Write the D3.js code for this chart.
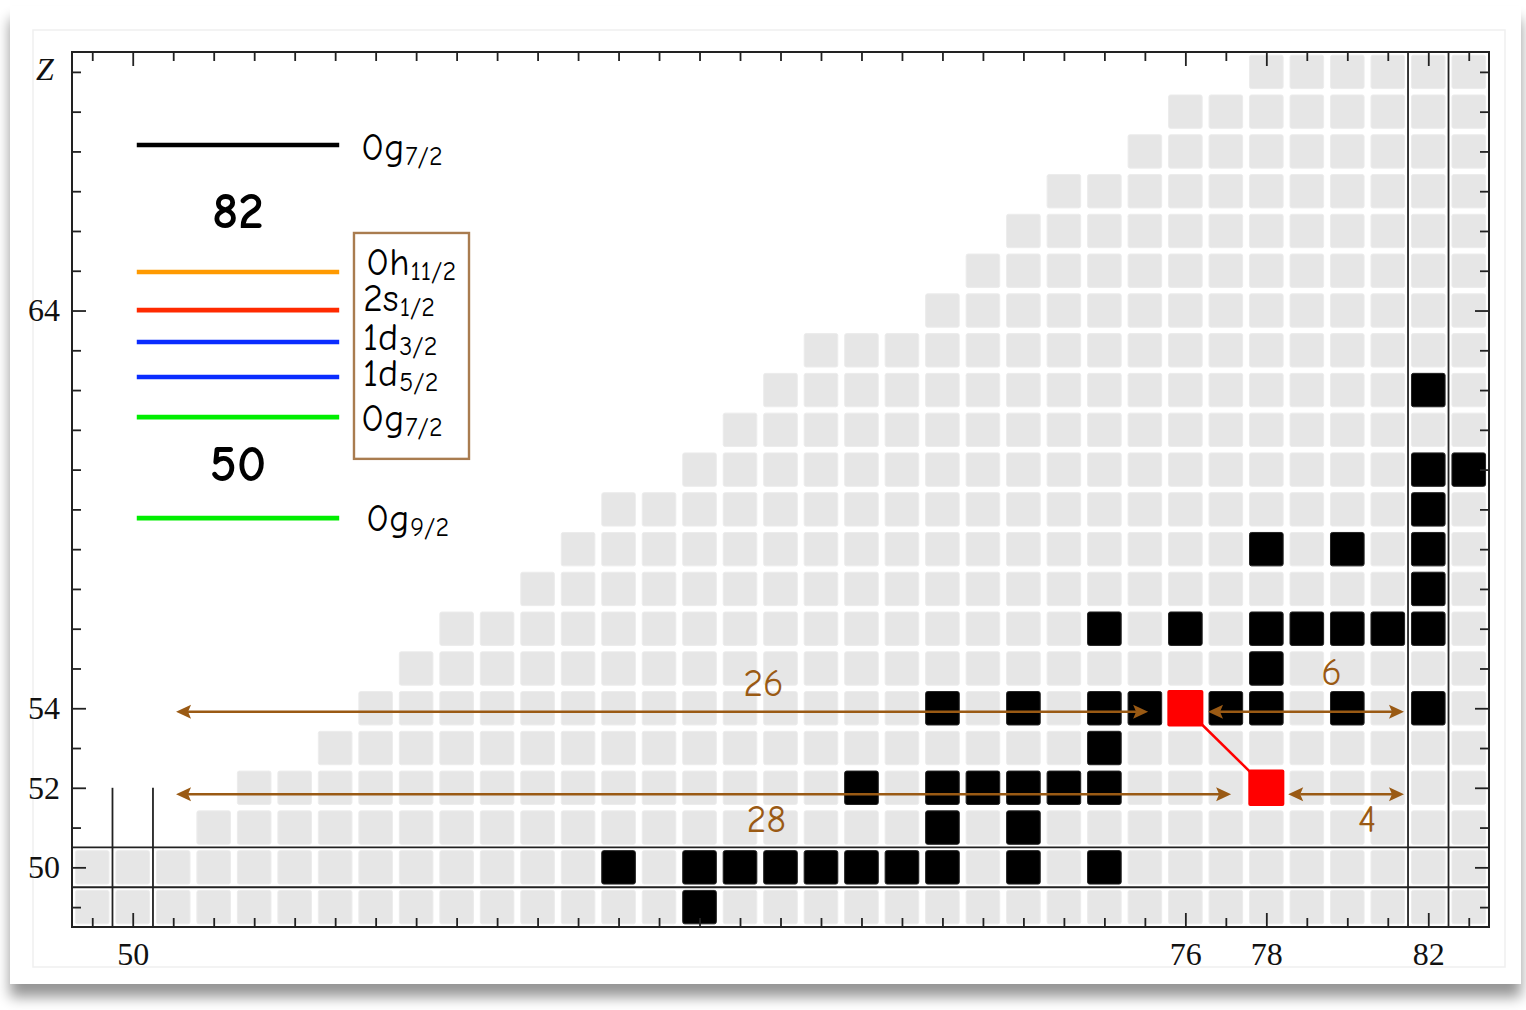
<!DOCTYPE html>
<html>
<head>
<meta charset="utf-8">
<script src="https://cdn.jsdelivr.net/npm/d3@7"></script>
<style>
  html, body { margin: 0; padding: 0; background: #fff; }
  svg { display: block; }
</style>
</head>
<body>
<script>
// ---- Data -------------------------------------------------------------
// Nuclide rows: proton number Z and the first neutron number N shown in that row
const rowZ      = [49, 50, 51, 52, 53, 54, 55, 56, 57, 58, 59, 60, 61, 62, 63, 64, 65, 66, 67, 68, 69, 70];
const rowFirstN = [49, 49, 52, 53, 55, 56, 57, 58, 60, 61, 62, 64, 65, 66, 67, 70, 71, 72, 73, 75, 76, 78];
const lastN = 83;

// Highlighted (black) nuclides as [N, Z]
const blackCells = [
  [64, 49],
  [62, 50], [64, 50], [65, 50], [66, 50], [67, 50], [68, 50], [69, 50], [70, 50], [72, 50], [74, 50],
  [70, 51], [72, 51],
  [68, 52], [70, 52], [71, 52], [72, 52], [73, 52], [74, 52],
  [74, 53],
  [70, 54], [72, 54], [74, 54], [75, 54], [77, 54], [78, 54], [80, 54], [82, 54],
  [78, 55],
  [74, 56], [76, 56], [78, 56], [79, 56], [80, 56], [81, 56], [82, 56],
  [82, 57],
  [78, 58], [80, 58], [82, 58],
  [82, 59],
  [82, 60], [83, 60],
  [82, 62]
];

// Red nuclides as [N, Z]
const redCells = [[76, 54], [78, 52]];

// Neutron spans (N from -> N to) at a given Z; label = number of neutrons
const arrowZ    = [54, 52, 54, 52];
const arrowFrom = [50, 50, 76, 78];
const arrowTo   = [76, 78, 82, 82];

// Single-particle level scheme
const levelOrbital = ["0g", "0h", "2s", "1d", "1d", "0g", "0g"];
const levelJ       = ["7/2", "11/2", "1/2", "3/2", "5/2", "7/2", "9/2"];
const levelHeight  = [68.16, 64.97, 64.01, 63.21, 62.33, 61.32, 58.78];
const magicNumbers = [82, 50];
const magicHeight  = [66.53, 60.17];

// Axis tick labels
const xTickLabels = [50, 76, 78, 82];
const yTickLabels = [50, 52, 54, 64];

// ---- Layout & style -----------------------------------------------------
const W = 1526, H = 1010;
const plot = { left: 72, right: 1489, top: 52, bottom: 927 };

const x = d3.scaleLinear().domain([48.5, 83.5]).range([plot.left, plot.right]);
const y = d3.scaleLinear().domain([48.5, 70.5]).range([plot.bottom, plot.top]);

const ux = x(1) - x(0), uy = y(0) - y(1);
const cellW = 0.83 * ux, cellH = 0.84 * uy;
const redW = 0.89 * ux, redH = 0.92 * uy;

const brown = "#9a5a14";
const serif = "'Liberation Serif', 'Times New Roman', serif";
const hand = "'Comic Sans MS', 'Comic Neue', Lato, sans-serif";

const svg = d3.select("body").append("svg").attr("width", W).attr("height", H);

// Card with soft drop shadow
const defs = svg.append("defs");
const f = defs.append("filter").attr("id", "cardShadow")
  .attr("x", "-3%").attr("y", "-3%").attr("width", "106%").attr("height", "110%");
f.append("feGaussianBlur").attr("in", "SourceAlpha").attr("stdDeviation", 7).attr("result", "b");
f.append("feOffset").attr("in", "b").attr("dx", 0).attr("dy", 13).attr("result", "o");
f.append("feComponentTransfer").attr("in", "o").attr("result", "s")
  .append("feFuncA").attr("type", "linear").attr("slope", 0.42);
const fm = f.append("feMerge");
fm.append("feMergeNode").attr("in", "s");
fm.append("feMergeNode").attr("in", "SourceGraphic");

svg.append("rect").attr("x", 10).attr("y", 6).attr("width", 1511).attr("height", 978)
  .attr("fill", "#fff").attr("filter", "url(#cardShadow)");
svg.append("rect").attr("x", 33).attr("y", 30).attr("width", 1472).attr("height", 937)
  .attr("fill", "none").attr("stroke", "#efefef").attr("stroke-width", 1.5);

const g = svg.append("g");

// ---- Grey nuclide grid ---------------------------------------------------
const greyCells = [];
rowZ.forEach((z, i) => {
  d3.range(rowFirstN[i], lastN + 1).forEach(n => greyCells.push([n, z]));
});

g.append("g").selectAll("rect").data(greyCells).join("rect")
  .attr("x", d => x(d[0]) - cellW / 2)
  .attr("y", d => y(d[1]) - cellH / 2)
  .attr("width", cellW).attr("height", cellH)
  .attr("rx", 2)
  .attr("fill", "#e6e6e6").attr("stroke", "#ececec").attr("stroke-width", 1);

g.append("g").selectAll("rect").data(blackCells).join("rect")
  .attr("x", d => x(d[0]) - cellW / 2)
  .attr("y", d => y(d[1]) - cellH / 2)
  .attr("width", cellW).attr("height", cellH)
  .attr("rx", 2)
  .attr("fill", "#000").attr("stroke", "#222").attr("stroke-width", 1);

// ---- Shell-closure guide lines ------------------------------------------
const guides = g.append("g").attr("stroke", "#222").attr("stroke-width", 1.8);
[81.5, 82.5].forEach(n => guides.append("line")
  .attr("x1", x(n)).attr("x2", x(n)).attr("y1", plot.top).attr("y2", plot.bottom));
[49.5, 50.5].forEach(z => guides.append("line")
  .attr("x1", plot.left).attr("x2", plot.right).attr("y1", y(z)).attr("y2", y(z)));
[49.5, 50.5].forEach(n => guides.append("line")
  .attr("x1", x(n)).attr("x2", x(n)).attr("y1", y(52)).attr("y2", plot.bottom));

// ---- Red pair and connector ----------------------------------------------
g.append("line")
  .attr("x1", x(redCells[0][0])).attr("y1", y(redCells[0][1]))
  .attr("x2", x(redCells[1][0])).attr("y2", y(redCells[1][1]))
  .attr("stroke", "#ff0000").attr("stroke-width", 2.5);

g.append("g").selectAll("rect").data(redCells).join("rect")
  .attr("x", d => x(d[0]) - redW / 2)
  .attr("y", d => y(d[1]) - redH / 2)
  .attr("width", redW).attr("height", redH)
  .attr("rx", 2)
  .attr("fill", "#ff0000");

// ---- Double-headed neutron-count arrows -----------------------------------
// tip insets (N units) from the span ends, vertical nudge (px) and label spot
const arrowInset = [[1.07, 0.92], [1.07, 0.87], [0.56, 0.6], [0.54, 0.6]];
const arrowDy = { 54: 3.5, 52: 6.5 };
const arrowLabelAt = [[65.58, 54.63], [65.65, 51.22], [79.61, 54.92], [80.49, 51.22]];
const headL = 15, headW = 7, notch = 3;

const arrows = g.append("g");
arrowZ.forEach((z, i) => {
  const xl = x(arrowFrom[i] + arrowInset[i][0]);
  const xr = x(arrowTo[i] - arrowInset[i][1]);
  const yy = y(z) + arrowDy[z];
  arrows.append("line")
    .attr("x1", xl + headL - notch).attr("x2", xr - headL + notch)
    .attr("y1", yy).attr("y2", yy)
    .attr("stroke", brown).attr("stroke-width", 2.6);
  arrows.append("path")
    .attr("d", `M${xl},${yy} L${xl + headL},${yy - headW} L${xl + headL - notch},${yy} L${xl + headL},${yy + headW} Z`)
    .attr("fill", brown);
  arrows.append("path")
    .attr("d", `M${xr},${yy} L${xr - headL},${yy - headW} L${xr - headL + notch},${yy} L${xr - headL},${yy + headW} Z`)
    .attr("fill", brown);
  arrows.append("text")
    .attr("x", x(arrowLabelAt[i][0])).attr("y", y(arrowLabelAt[i][1]) + 13)
    .attr("text-anchor", "middle")
    .style("font-family", hand).style("font-size", "38px")
    .attr("fill", brown)
    .text(arrowTo[i] - arrowFrom[i]);
});

// ---- Axes ------------------------------------------------------------------
const axes = svg.append("g").attr("stroke-linecap", "butt");
const allN = d3.range(49, 84), allZ = d3.range(49, 71);
const minorN = allN.filter(n => !xTickLabels.includes(n));
const minorZ = allZ.filter(z => !yTickLabels.includes(z));

function tickAxis(axisFn, scale, values, size, transform) {
  const a = axes.append("g").attr("transform", transform)
    .call(axisFn(scale).tickValues(values).tickSize(size).tickFormat(""));
  a.select(".domain").remove();
  a.selectAll("line").attr("stroke", "#222").attr("stroke-width", 1.8);
}
tickAxis(d3.axisBottom, x, minorN, -9, `translate(0,${plot.bottom})`);
tickAxis(d3.axisBottom, x, xTickLabels, -14, `translate(0,${plot.bottom})`);
tickAxis(d3.axisTop, x, minorN, -9, `translate(0,${plot.top})`);
tickAxis(d3.axisTop, x, xTickLabels, -14, `translate(0,${plot.top})`);
tickAxis(d3.axisLeft, y, minorZ, -9, `translate(${plot.left},0)`);
tickAxis(d3.axisLeft, y, yTickLabels, -14, `translate(${plot.left},0)`);
tickAxis(d3.axisRight, y, minorZ, -9, `translate(${plot.right},0)`);
tickAxis(d3.axisRight, y, yTickLabels, -14, `translate(${plot.right},0)`);

const xl = axes.append("g").attr("transform", `translate(0,${plot.bottom})`)
  .call(d3.axisBottom(x).tickValues(xTickLabels).tickSize(0).tickPadding(15));
xl.select(".domain").remove();
xl.attr("font-family", null).attr("font-size", null);
xl.selectAll("text").style("font-family", serif).style("font-size", "32px").attr("fill", "#111");

const yl = axes.append("g").attr("transform", `translate(${plot.left},0)`)
  .call(d3.axisLeft(y).tickValues(yTickLabels).tickSize(0).tickPadding(12));
yl.select(".domain").remove();
yl.attr("font-family", null).attr("font-size", null);
yl.selectAll("text").style("font-family", serif).style("font-size", "32px").attr("fill", "#111");

axes.append("text")
  .attr("x", 45).attr("y", 80)
  .attr("text-anchor", "middle")
  .style("font-family", serif).style("font-style", "italic").style("font-size", "32px")
  .attr("fill", "#111").text("Z");

axes.append("rect")
  .attr("x", plot.left).attr("y", plot.top)
  .attr("width", plot.right - plot.left).attr("height", plot.bottom - plot.top)
  .attr("fill", "none").attr("stroke", "#222").attr("stroke-width", 2);

// ---- Level scheme ---------------------------------------------------------
const levelColor = ["#000000", "#ff9a00", "#ff2a00", "#0a2cff", "#0a2cff", "#00ee00", "#00ee00"];
const labelDy = [2, -10, -12, -5, -4, 1, -0.5];
const labelX = [361, 366, 363, 363, 363, 361, 366];
const lineN = [50.1, 55.1];

const legend = svg.append("g");
levelHeight.forEach((h, i) => {
  legend.append("line")
    .attr("x1", x(lineN[0])).attr("x2", x(lineN[1]))
    .attr("y1", y(h)).attr("y2", y(h))
    .attr("stroke", levelColor[i]).attr("stroke-width", 4.6);
  const t = legend.append("text")
    .attr("x", labelX[i]).attr("y", y(h) + labelDy[i] + 13)
    .style("font-family", hand).attr("fill", "#000");
  t.append("tspan").style("font-size", "38px").text(levelOrbital[i]);
  t.append("tspan").style("font-size", "26px").attr("dy", 5).attr("dx", 1).text(levelJ[i]);
});

magicNumbers.forEach((m, i) => {
  legend.append("text")
    .attr("x", x((lineN[0] + lineN[1]) / 2)).attr("y", y(magicHeight[i]) + 18)
    .attr("text-anchor", "middle")
    .style("font-family", hand).style("font-weight", "900").style("font-size", "51px")
    .attr("fill", "#000").text(m);
});

// frame around the Z = 51..64 orbitals
legend.append("rect")
  .attr("x", x(55.465)).attr("y", y(65.95))
  .attr("width", x(58.306) - x(55.465)).attr("height", y(60.27) - y(65.95))
  .attr("fill", "none").attr("stroke", "#a97c4f").attr("stroke-width", 2.4);
</script>
</body>
</html>
